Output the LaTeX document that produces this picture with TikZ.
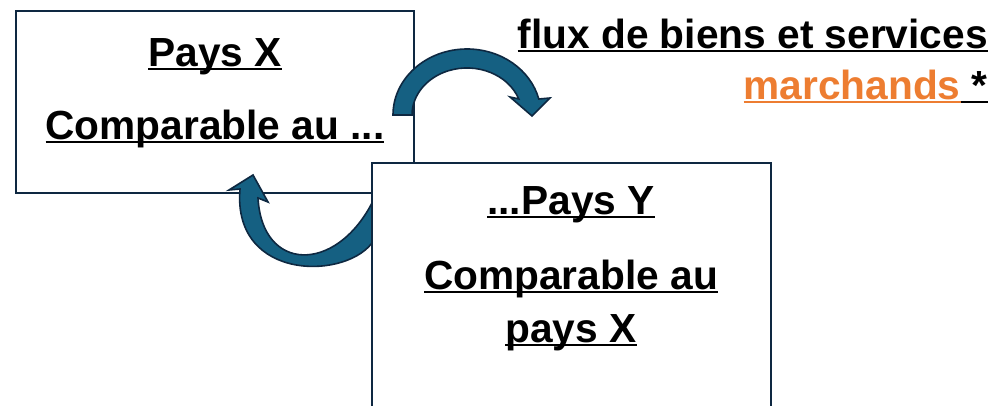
\documentclass[tikz,border=0pt]{standalone}
\usepackage{fontspec}
\setmainfont{Liberation Sans}
\usepackage{xcolor}
\usetikzlibrary{positioning}
\definecolor{colorcadre}  {RGB}{14 ,40 ,65 }
\definecolor{colorfleche} {RGB}{21 ,96 ,130}
\definecolor{colororange} {RGB}{237,125,49 }
\definecolor{colortext}   {RGB}{0  ,0  ,0  }
\newlength\ulwd
\newcommand\souligne[1]{\settowidth\ulwd{#1}\rlap{\rule[-2.2pt]{\ulwd}{1.4pt}}#1}

\begin{document}
\begin{tikzpicture}[
    x=0.75pt, y=0.75pt,
    font={\fontsize{30.5}{36}\selectfont\bfseries},
    titre/.style={text=colortext,inner sep=0pt,anchor=base},
    flux/.style={text=colortext,inner sep=0pt,anchor=base east},
    cadre/.style={draw=colorcadre,line width=2.1pt,fill=white},
    fleche/.style={draw=colorcadre,line width=1.2pt,fill=colorfleche},
]

    \useasboundingbox (0,0) rectangle (993,406);
    \clip (0,0) rectangle (993,406);

    \draw[cadre] (16,213) rectangle (414,395);

    \draw[fleche] (393,291) arc[start angle=180,end angle=14,x radius=74,y radius=66]
        -- (550,308) -- (532,290) -- (510,309) -- (518.7,307.1)
        arc[start angle=20,end angle=180,x radius=55,y radius=47] -- cycle;
    \draw[fleche] (374,166) .. controls (350,126) and (232,123) .. (240,217)
        -- (229,216) -- (253,231) -- (268,204) -- (258,208)
        .. controls (262,134) and (335,132) .. (372,203) -- cycle;

    \draw[cadre] (372,-20) rectangle (771,243);

    \node[titre] (paysX) at (215,339) {\souligne{Pays X}};
    \node[titre] (compX) at (215,266) {\souligne{Comparable au ...}};
    \node[titre] (paysY) at (571,191) {\souligne{...Pays Y}};
    \node[titre] (compY) at (571,116) {\souligne{Comparable au}};
    \node[titre] (paysXbis) at (571,63) {\souligne{pays X}};
    \node[flux] (flux) at (988,357) {\souligne{flux de biens et services}};
    \node[flux] (marchands) at (988,306) {{\color{colororange}\souligne{marchands}}\souligne{ *}};

\end{tikzpicture}
\end{document}
